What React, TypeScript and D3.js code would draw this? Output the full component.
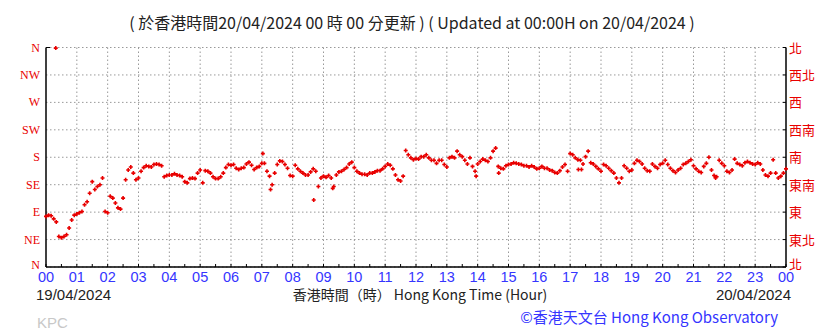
import React from "react";
import * as d3 from "d3";

// 風向 (度) — 每 5 分鐘一點，由 00:00 開始
const dir00to06 = [83, 85, 84, 79, 74, 50, 48, 50, 53, 64, 77, 85, 87, 89, 91, 102, 107, 121, 140, 127, 132, 135, 146, 91, 89, 116, 113, 105, 97, 95, 113, 143, 159, 164, 154, 143, 146, 157, 163, 166, 165, 164, 168, 169, 168, 166, 148, 150, 151, 151, 153, 151, 150, 148, 140, 138, 145, 146, 145, 154, 159, 138, 158, 157, 154, 148, 145, 145, 148, 154, 163, 168];
const dir06to12 = [167, 168, 162, 160, 162, 163, 169, 172, 167, 160, 163, 165, 170, 170, 157, 149, 135, 154, 168, 174, 173, 168, 162, 150, 149, 167, 161, 157, 154, 151, 151, 156, 161, 157, 132, 146, 149, 147, 150, 146, 132, 151, 156, 157, 160, 163, 169, 172, 163, 157, 154, 152, 152, 151, 154, 154, 156, 158, 158, 161, 165, 169, 167, 161, 151, 143, 141, 149, 191, 184, 179, 176];
const dir12to18 = [178, 177, 181, 181, 184, 179, 175, 175, 170, 175, 175, 168, 164, 179, 181, 179, 190, 184, 181, 175, 169, 179, 165, 157, 169, 173, 177, 175, 173, 179, 190, 195, 165, 162, 161, 166, 168, 169, 171, 170, 169, 168, 166, 166, 164, 166, 164, 161, 162, 165, 162, 162, 159, 158, 155, 154, 158, 164, 168, 157, 186, 184, 179, 176, 175, 169, 181, 190, 171, 169, 165, 161];
const dir18to24 = [157, 168, 166, 162, 158, 154, 146, 138, 146, 166, 162, 157, 159, 170, 175, 173, 169, 162, 158, 157, 169, 165, 162, 168, 170, 175, 168, 162, 158, 155, 159, 162, 168, 170, 173, 176, 166, 161, 157, 155, 165, 170, 180, 159, 150, 148, 175, 170, 166, 157, 155, 159, 177, 170, 168, 166, 171, 173, 171, 169, 168, 171, 169, 159, 151, 149, 154, 176, 154, 146, 149, 154, 161];

// 零散點 [分鐘, 度]
const strayPoints = [[19, 359], [422, 186], [437, 127], [521, 110], [558, 129], [837, 149], [881, 154], [1036, 160], [1042, 160], [1303, 146]];

const leftLabels = ["N", "NE", "E", "SE", "S", "SW", "W", "NW", "N"];
const rightLabels = ["北", "東北", "東", "東南", "南", "西南", "西", "西北", "北"];
const hourLabels = ["00", "01", "02", "03", "04", "05", "06", "07", "08", "09", "10", "11", "12", "13", "14", "15", "16", "17", "18", "19", "20", "21", "22", "23", "00"];

const STEP = 5;

export default function App() {
  const width = 838, height = 331;
  const x = d3.scaleLinear().domain([0, 1440]).range([46, 786]);
  const y = d3.scaleLinear().domain([0, 360]).range([267, 47.5]);

  const series = [...dir00to06, ...dir06to12, ...dir12to18, ...dir18to24];
  const points = series.map((v, i) => [i * STEP, v]).concat(strayPoints);

  const red = "#e80000";
  const blue = "#3535ff";
  const sans = "Liberation Sans, Arial, sans-serif";
  const cjk = "'Noto Sans CJK TC', 'Noto Sans', sans-serif";
  const levels = d3.range(0, 361, 45);
  const hours = d3.range(0, 25);
  const halfHours = d3.range(0, 1441, 30);

  const marks = points
    .map(([t, v]) => {
      const px = x(t), py = y(v);
      return `M${px - 2},${py}h4M${px},${py - 2}v4`;
    })
    .join("");

  return (
    <svg width={width} height={height} style={{ position: "absolute", left: 0, top: 0, background: "#fff" }}>
      <text x={412} y={29} textAnchor="middle" fontFamily={cjk} fontSize={16} fill="#222">
        ( 於香港時間20/04/2024 00 時 00 分更新 ) ( Updated at 00:00H on 20/04/2024 )
      </text>

      {/* 格線 */}
      {levels.map((l) => (
        <line key={"h" + l} x1={x(0)} x2={x(1440)} y1={y(l)} y2={y(l)} stroke="#999" strokeDasharray="1.5,2.5" />
      ))}
      {hours.slice(1, 24).map((h) => (
        <line key={"v" + h} x1={x(h * 60)} x2={x(h * 60)} y1={y(360)} y2={y(0)} stroke="#999" strokeDasharray="1.5,2.5" />
      ))}

      {/* 座標軸 */}
      <line x1={x(0)} x2={x(0)} y1={y(360)} y2={y(0)} stroke="#000" strokeWidth={1.5} />
      <line x1={x(1440)} x2={x(1440)} y1={y(360)} y2={y(0)} stroke="#000" strokeWidth={1.5} />
      <line x1={x(0)} x2={x(1440)} y1={y(0)} y2={y(0)} stroke="#000" strokeWidth={1.5} />
      <line x1={x(0)} x2={x(0) + 4} y1={y(360)} y2={y(360)} stroke="#000" strokeWidth={1} />
      {halfHours.map((t) => (
        <line key={"t" + t} x1={x(t)} x2={x(t)} y1={y(0)} y2={y(0) - 3} stroke="#000" />
      ))}
      {levels.map((l) => (
        <line key={"r" + l} x1={x(1440)} x2={x(1440) - 3} y1={y(l)} y2={y(l)} stroke="#000" />
      ))}

      {/* 數據點 */}
      <path d={marks} stroke={red} strokeWidth={1.6} fill="none" />

      {/* 左方標籤 */}
      {leftLabels.map((s, i) => (
        <text key={"l" + i} x={40} y={y(levels[i]) + (i === 0 ? 2 : 4)} textAnchor="end" fontFamily="'Liberation Serif', serif" fontSize={12} fill={red}>
          {s}
        </text>
      ))}
      {/* 右方標籤 */}
      {rightLabels.map((s, i) => (
        <text key={"rr" + i} x={789} y={y(levels[i]) + (i === 0 ? 1.5 : 5)} fontFamily={cjk} fontSize={13} fill={red}>
          {s}
        </text>
      ))}
      {/* 時間標籤 */}
      {hourLabels.map((s, i) => (
        <text key={"x" + i} x={x(i * 60)} y={282} textAnchor="middle" fontFamily={sans} fontSize={14.5} fill={blue}>
          {s}
        </text>
      ))}

      <text x={36} y={300} fontFamily={sans} fontSize={15} fill="#222">19/04/2024</text>
      <text x={420} y={300} textAnchor="middle" fontFamily={cjk} fontSize={14} fill="#222">
        香港時間（時） Hong Kong Time (Hour)
      </text>
      <text x={791} y={300} textAnchor="end" fontFamily={sans} fontSize={15} fill="#222">20/04/2024</text>
      <text x={37} y={328} fontFamily={sans} fontSize={15} fill="#c8c8c8">KPC</text>
      <text x={778} y={323} textAnchor="end" fontFamily={cjk} fontSize={15} fill={blue}>
        ©香港天文台 Hong Kong Observatory
      </text>
    </svg>
  );
}
